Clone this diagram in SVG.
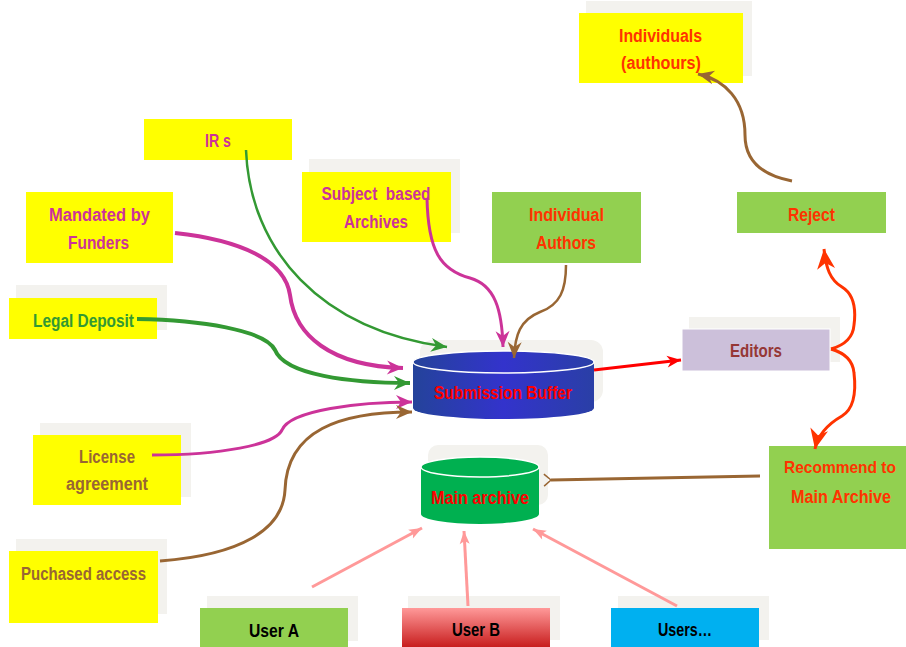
<svg xmlns="http://www.w3.org/2000/svg" width="906" height="647" viewBox="0 0 906 647">
<style>
text{font-family:"Liberation Sans",Arial,sans-serif;font-weight:bold;font-size:18px;text-anchor:middle;white-space:pre}
.sh{fill:#F3F2EE}
.y{fill:#FFFF00}
.g{fill:#92D050}
.mag{fill:#CC3399}
.grn{fill:#339933}
.org{fill:#FF3300}
.brn{fill:#996633}
.red{fill:#FF0000}
.blk{fill:#000}
</style>
<defs>
<linearGradient id="gB" x1="0" y1="0" x2="1" y2="0"><stop offset="0" stop-color="#24439A"/><stop offset="0.5" stop-color="#3333CC"/><stop offset="1" stop-color="#2A3FA6"/></linearGradient>
<linearGradient id="gUB" x1="0" y1="0" x2="0" y2="1"><stop offset="0" stop-color="#FF9999"/><stop offset="1" stop-color="#C81E1E"/></linearGradient>
<marker id="aG" markerUnits="userSpaceOnUse" markerWidth="20" markerHeight="20" viewBox="0 0 20 20" refX="18" refY="10" orient="auto"><path d="M2,3 L18,10 L2,17 L7,10 z" fill="#339933"/></marker>
<marker id="aM" markerUnits="userSpaceOnUse" markerWidth="20" markerHeight="20" viewBox="0 0 20 20" refX="18" refY="10" orient="auto"><path d="M2,3 L18,10 L2,17 L7,10 z" fill="#CC3399"/></marker>
<marker id="aBr" markerUnits="userSpaceOnUse" markerWidth="20" markerHeight="20" viewBox="0 0 20 20" refX="18" refY="10" orient="auto"><path d="M2,3 L18,10 L2,17 L7,10 z" fill="#996633"/></marker>
<marker id="aR" markerUnits="userSpaceOnUse" markerWidth="20" markerHeight="20" viewBox="0 0 20 20" refX="18" refY="10" orient="auto"><path d="M4,4 L18,10 L4,16 L8,10 z" fill="#FF0000"/></marker>
<marker id="aO" markerUnits="userSpaceOnUse" markerWidth="24" markerHeight="24" viewBox="0 0 24 24" refX="22" refY="12" orient="auto"><path d="M2,3 L22,12 L2,21 L8,12 z" fill="#FF3300"/></marker>
<marker id="aP" markerUnits="userSpaceOnUse" markerWidth="16" markerHeight="16" viewBox="0 0 16 16" refX="15" refY="8" orient="auto"><path d="M2,3 L15,8 L2,13 L5,8 z" fill="#FF9999"/></marker>
<marker id="aBo" markerUnits="userSpaceOnUse" markerWidth="16" markerHeight="16" viewBox="0 0 16 16" refX="2" refY="8" orient="auto"><path d="M9,2 L2,8 L9,14" fill="none" stroke="#996633" stroke-width="1.5"/></marker>
</defs>

<g id="irs"><rect class="y" x="144" y="119" width="148" height="41"/><text class="mag" x="218" y="147" textLength="26" lengthAdjust="spacingAndGlyphs">IR s</text></g>
<g id="subject"><rect class="sh" x="309" y="159" width="151" height="74"/><rect class="y" x="302" y="172" width="149" height="70"/><text class="mag" x="376" y="200" textLength="109" lengthAdjust="spacingAndGlyphs">Subject  based</text><text class="mag" x="376" y="228" textLength="64" lengthAdjust="spacingAndGlyphs">Archives</text></g>
<g id="mandated"><rect class="y" x="26" y="192" width="147" height="71"/><text class="mag" x="99.5" y="221" textLength="101" lengthAdjust="spacingAndGlyphs">Mandated by</text><text class="mag" x="98.5" y="249" textLength="61" lengthAdjust="spacingAndGlyphs">Funders</text></g>
<g id="legal"><rect class="sh" x="16" y="285" width="151" height="45"/><rect class="y" x="9" y="298" width="148" height="41"/><text class="grn" x="83.5" y="327" textLength="101" lengthAdjust="spacingAndGlyphs">Legal Deposit</text></g>
<g id="indauthors"><rect class="g" x="492" y="192" width="149" height="71"/><text class="org" x="566.5" y="221" textLength="75" lengthAdjust="spacingAndGlyphs">Individual</text><text class="org" x="566" y="249" textLength="60" lengthAdjust="spacingAndGlyphs">Authors</text></g>
<g id="individuals"><rect class="sh" x="586" y="1" width="166" height="75"/><rect class="y" x="579" y="13" width="164" height="70"/><text class="org" x="660.5" y="42" textLength="83" lengthAdjust="spacingAndGlyphs">Individuals</text><text class="org" x="661" y="69" textLength="80" lengthAdjust="spacingAndGlyphs">(authours)</text></g>
<g id="reject"><rect class="g" x="737" y="192" width="149" height="41"/><text class="org" x="811.5" y="221" textLength="47" lengthAdjust="spacingAndGlyphs">Reject</text></g>
<g id="editors"><rect class="sh" x="689" y="317" width="151" height="45"/><rect fill="#CCC0DA" stroke="#fff" x="682" y="329" width="148" height="42"/><text fill="#953735" x="756" y="357" textLength="52" lengthAdjust="spacingAndGlyphs">Editors</text></g>
<g id="recommend"><rect class="g" x="769" y="446" width="137" height="103"/><text class="org" x="840" y="473" style="font-size:17px" textLength="112" lengthAdjust="spacingAndGlyphs">Recommend to</text><text class="org" x="841" y="503" textLength="100" lengthAdjust="spacingAndGlyphs">Main Archive</text></g>
<g id="license"><rect class="sh" x="40" y="423" width="151" height="74"/><rect class="y" x="33" y="435" width="148" height="70"/><text class="brn" x="107" y="463" textLength="56" lengthAdjust="spacingAndGlyphs">License</text><text class="brn" x="107" y="490" textLength="82" lengthAdjust="spacingAndGlyphs">agreement</text></g>
<g id="purchased"><rect class="sh" x="16" y="539" width="151" height="75"/><rect class="y" x="9" y="551" width="149" height="72"/><text class="brn" x="83.5" y="580" textLength="125" lengthAdjust="spacingAndGlyphs">Puchased access</text></g>
<g id="usera"><rect class="sh" x="207" y="596" width="151" height="45"/><rect class="g" x="200" y="608" width="148" height="39"/><text class="blk" x="274" y="637" textLength="50" lengthAdjust="spacingAndGlyphs">User A</text></g>
<g id="userb"><rect class="sh" x="408" y="596" width="152" height="44"/><rect fill="url(#gUB)" x="402" y="608" width="148" height="39"/><text class="blk" x="476" y="636" textLength="48" lengthAdjust="spacingAndGlyphs">User B</text></g>
<g id="users"><rect class="sh" x="618" y="596" width="151" height="44"/><rect fill="#00B0F0" x="611" y="608" width="148" height="39"/><text class="blk" x="685" y="636" textLength="54" lengthAdjust="spacingAndGlyphs">Users…</text></g>

<g id="submission">
<rect class="sh" x="420" y="340" width="183" height="62" rx="12"/>
<path d="M413,362 L413,408 A90.5,11 0 0 0 594,408 L594,362 z" fill="url(#gB)"/>
<ellipse cx="503.5" cy="362" rx="90.5" ry="11" fill="url(#gB)" stroke="#fff" stroke-width="1.5"/>
<text class="red" x="503" y="399" textLength="138" lengthAdjust="spacingAndGlyphs">Submission Buffer</text>
</g>
<g id="mainarchive">
<rect class="sh" x="428" y="445" width="120" height="60" rx="10"/>
<path d="M421,467 L421,514 A59,10 0 0 0 539,514 L539,467 z" fill="#00B050"/>
<ellipse cx="480" cy="467" rx="59" ry="10" fill="#00B050" stroke="#fff" stroke-width="1.5"/>
<text class="red" x="480" y="504" textLength="98" lengthAdjust="spacingAndGlyphs">Main archive</text>
</g>

<g id="connectors" fill="none">
<path d="M246,150 C250,250 320,330 447,347" stroke="#339933" stroke-width="2.5" marker-end="url(#aG)"/>
<path d="M175,233 C240,240 285,260 290,295 C295,335 330,366 403,368" stroke="#CC3399" stroke-width="4" marker-end="url(#aM)"/>
<path d="M137,319 C200,320 265,330 275,350 C285,375 350,383 410,383" stroke="#339933" stroke-width="4" marker-end="url(#aG)"/>
<path d="M427,198 C428,250 440,270 470,278 C495,285 502,310 503,347" stroke="#CC3399" stroke-width="3" marker-end="url(#aM)"/>
<path d="M566,265 C566,290 560,305 540,312 C520,320 515,335 514,358" stroke="#996633" stroke-width="2.5" marker-end="url(#aBr)"/>
<path d="M152,455 C220,455 275,445 282,430 C290,410 360,402 412,402" stroke="#CC3399" stroke-width="3" marker-end="url(#aM)"/>
<path d="M160,561 C240,555 283,530 285,490 C287,430 340,412 412,412" stroke="#996633" stroke-width="3" marker-end="url(#aBr)"/>
<path d="M594,370 L681,360" stroke="#FF0000" stroke-width="3" marker-end="url(#aR)"/>
<path d="M831,349 C845,345 853,338 854,325 C856,310 855,295 842,287 C830,280 826,268 824,249" stroke="#FF3300" stroke-width="3" marker-end="url(#aO)"/>
<path d="M831,349 C845,353 853,360 854,373 C856,390 855,408 842,416 C828,424 818,435 815,449" stroke="#FF3300" stroke-width="3" marker-end="url(#aO)"/>
<path d="M760,476 L551,480" stroke="#996633" stroke-width="3" marker-end="url(#aBo)"/>
<path d="M792,181 C760,175 745,160 745,135 C745,100 725,80 698,74" stroke="#996633" stroke-width="3" marker-end="url(#aBr)"/>
<path d="M312,587 L422,528" stroke="#FF9999" stroke-width="3" marker-end="url(#aP)"/>
<path d="M468,606 L464,531" stroke="#FF9999" stroke-width="3" marker-end="url(#aP)"/>
<path d="M677,606 L533,529" stroke="#FF9999" stroke-width="3" marker-end="url(#aP)"/>
</g>
</svg>
